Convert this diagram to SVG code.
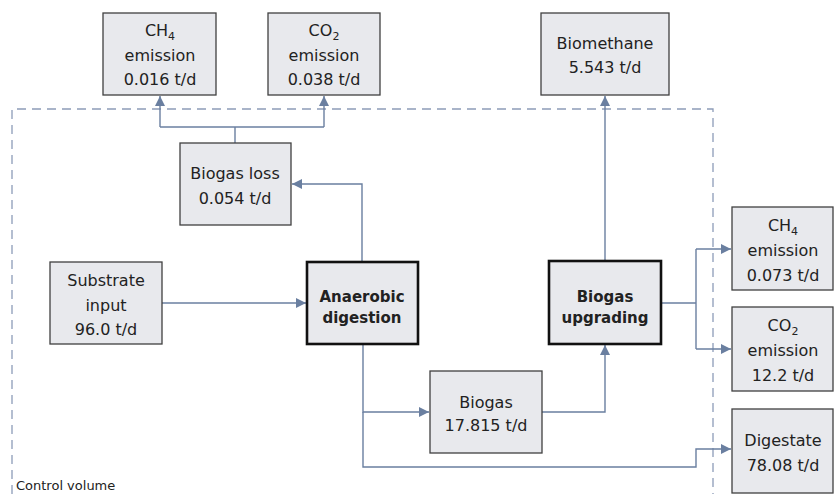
<svg xmlns="http://www.w3.org/2000/svg" width="834" height="494" viewBox="0 0 834 494">
<defs>
<marker id="ah" viewBox="0 0 10 10" refX="10" refY="5" markerWidth="10" markerHeight="10" markerUnits="userSpaceOnUse" orient="auto">
<path d="M0,0 L10,5 L0,10 z" fill="#6a7fa0"/>
</marker>
<style>
.box{fill:#e8e9ed;stroke:#404040;stroke-width:1.3}
.main{fill:#e8e9ed;stroke:#111;stroke-width:2.6}
.t{font-family:"DejaVu Sans",Verdana,sans-serif;font-size:16px;fill:#222;text-anchor:middle}
.b{font-weight:bold;font-size:15px}
.sub{font-size:11px}
.c{fill:none;stroke:#6a7fa0;stroke-width:1.4}
.cv{fill:none;stroke:#8d9cb8;stroke-width:1.3;stroke-dasharray:9,6}
.lbl{font-family:"DejaVu Sans",Verdana,sans-serif;font-size:13px;fill:#222}
</style>
</defs>
<rect width="834" height="494" fill="#fff"/>
<g id="control-volume">
<path class="cv" d="M12,494 L12,109 L713,109 L713,494"/>
<text class="lbl" x="16" y="490">Control volume</text>
</g>
<g id="connectors">
<path class="c" d="M235,143 L235,127"/>
<path class="c" d="M160,127 L324,127"/>
<path class="c" d="M160,127 L160,96" marker-end="url(#ah)"/>
<path class="c" d="M324,127 L324,96" marker-end="url(#ah)"/>
<path class="c" d="M362,262 L362,184 L292,184" marker-end="url(#ah)"/>
<path class="c" d="M162,303 L306,303" marker-end="url(#ah)"/>
<path class="c" d="M363,344 L363,412 L429,412" marker-end="url(#ah)"/>
<path class="c" d="M542,412 L605,412 L605,345" marker-end="url(#ah)"/>
<path class="c" d="M605,261 L605,96" marker-end="url(#ah)"/>
<path class="c" d="M661,303 L696,303"/>
<path class="c" d="M696,249 L696,349"/>
<path class="c" d="M696,249 L731,249" marker-end="url(#ah)"/>
<path class="c" d="M696,349 L731,349" marker-end="url(#ah)"/>
<path class="c" d="M363,412 L363,467 L696,467 L696,449 L731,449" marker-end="url(#ah)"/>
</g>
<g id="ch4-emission-top">
<rect class="box" x="103" y="13" width="113" height="82"/>
<text class="t" x="160" y="36">CH<tspan class="sub" dy="4">4</tspan></text>
<text class="t" x="160" y="61">emission</text>
<text class="t" x="160" y="85">0.016 t/d</text>
</g>
<g id="co2-emission-top">
<rect class="box" x="268" y="13" width="112" height="82"/>
<text class="t" x="324" y="36">CO<tspan class="sub" dy="4">2</tspan></text>
<text class="t" x="324" y="61">emission</text>
<text class="t" x="324" y="85">0.038 t/d</text>
</g>
<g id="biomethane">
<rect class="box" x="541" y="13" width="128" height="82"/>
<text class="t" x="605" y="49">Biomethane</text>
<text class="t" x="605" y="73">5.543 t/d</text>
</g>
<g id="biogas-loss">
<rect class="box" x="180" y="143" width="111" height="82"/>
<text class="t" x="235" y="179">Biogas loss</text>
<text class="t" x="235" y="204">0.054 t/d</text>
</g>
<g id="substrate-input">
<rect class="box" x="50" y="262" width="112" height="82"/>
<text class="t" x="106" y="286">Substrate</text>
<text class="t" x="106" y="311">input</text>
<text class="t" x="106" y="335">96.0 t/d</text>
</g>
<g id="anaerobic-digestion">
<rect class="main" x="307" y="262" width="111" height="82"/>
<text class="t b" x="362" y="302">Anaerobic</text>
<text class="t b" x="362" y="323">digestion</text>
</g>
<g id="biogas-upgrading">
<rect class="main" x="549" y="261" width="112" height="83"/>
<text class="t b" x="605" y="302">Biogas</text>
<text class="t b" x="605" y="323">upgrading</text>
</g>
<g id="biogas">
<rect class="box" x="430" y="371" width="112" height="82"/>
<text class="t" x="486" y="408">Biogas</text>
<text class="t" x="486" y="431">17.815 t/d</text>
</g>
<g id="ch4-emission-right">
<rect class="box" x="732" y="207" width="101" height="83"/>
<text class="t" x="783" y="231">CH<tspan class="sub" dy="4">4</tspan></text>
<text class="t" x="783" y="256">emission</text>
<text class="t" x="783" y="281">0.073 t/d</text>
</g>
<g id="co2-emission-right">
<rect class="box" x="732" y="307" width="101" height="84"/>
<text class="t" x="783" y="331">CO<tspan class="sub" dy="4">2</tspan></text>
<text class="t" x="783" y="356">emission</text>
<text class="t" x="783" y="381">12.2 t/d</text>
</g>
<g id="digestate">
<rect class="box" x="732" y="409" width="101" height="84"/>
<text class="t" x="783" y="446">Digestate</text>
<text class="t" x="783" y="471">78.08 t/d</text>
</g>
</svg>
